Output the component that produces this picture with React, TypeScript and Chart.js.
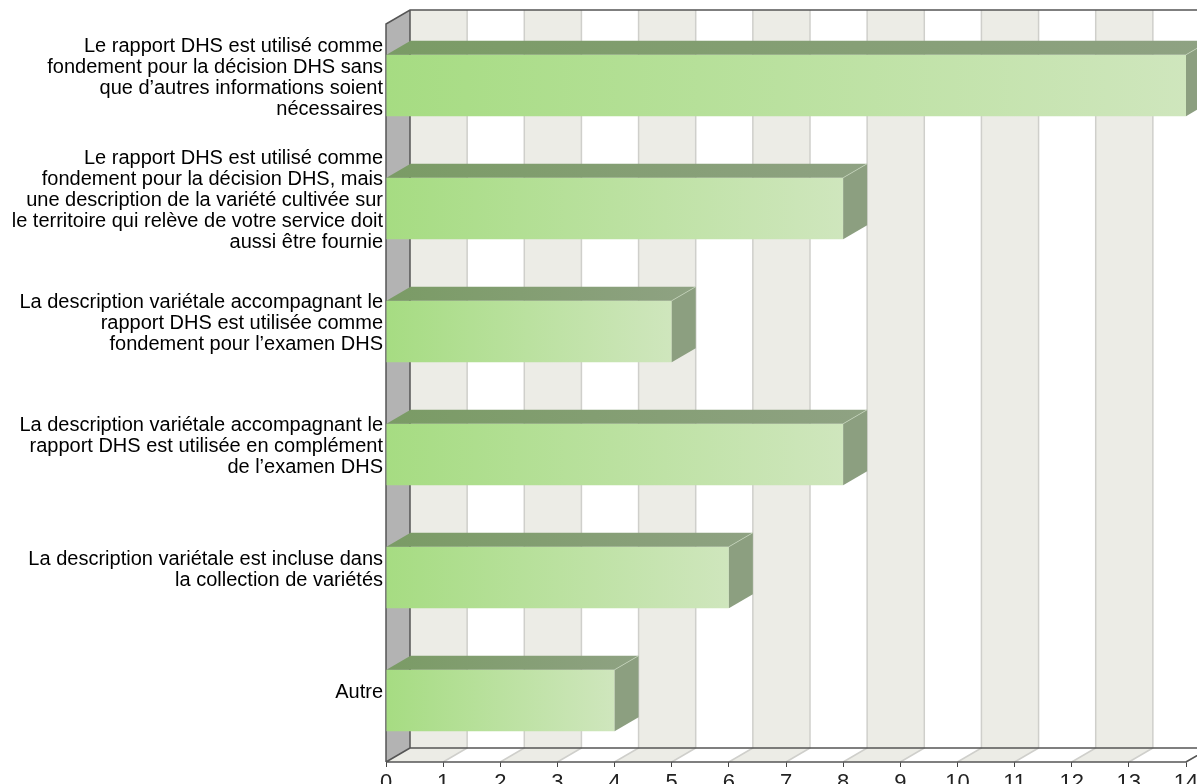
import React, { useEffect, useRef } from "react";
import { Chart, registerables } from "chart.js";

Chart.register(...registerables);

const categories: string[][] = [
  ["Le rapport DHS est utilisé comme", "fondement pour la décision DHS sans", "que d’autres informations soient", "nécessaires"],
  ["Le rapport DHS est utilisé comme", "fondement pour la décision DHS, mais", "une description de la variété cultivée sur", "le territoire qui relève de votre service doit", "aussi être fournie"],
  ["La description variétale accompagnant le", "rapport DHS est utilisée comme", "fondement pour l’examen DHS"],
  ["La description variétale accompagnant le", "rapport DHS est utilisée en complément", "de l’examen DHS"],
  ["La description variétale est incluse dans", "la collection de variétés"],
  ["Autre"],
];
const values: number[] = [14, 8, 5, 8, 6, 4];
const xMin = 0;
const xMax = 14;
const xStep = 1;

const DX = 24;
const DY = -14;
const FONT = "'Liberation Sans', Arial, Helvetica, sans-serif";

const wallPlugin = {
  id: "wall3d",
  beforeDatasetsDraw(chart: any) {
    const { ctx, chartArea } = chart;
    const xs = chart.scales.x;
    const { left, right, top, bottom } = chartArea;
    ctx.save();
    ctx.fillStyle = "#ffffff";
    ctx.fillRect(left + DX, top + DY, right - left, bottom - top);
    ctx.fillStyle = "#ecece6";
    for (let v = xMin; v < xMax; v += xStep) {
      const idx = Math.round((v - xMin) / xStep);
      if (idx % 2 !== 0) continue;
      const a = xs.getPixelForValue(v) + DX;
      const b = xs.getPixelForValue(v + xStep) + DX;
      ctx.fillRect(a, top + DY, b - a, bottom - top);
    }
    ctx.fillStyle = "#ffffff";
    ctx.beginPath();
    ctx.moveTo(left, bottom);
    ctx.lineTo(left + DX, bottom + DY);
    ctx.lineTo(right + DX, bottom + DY);
    ctx.lineTo(right, bottom);
    ctx.closePath();
    ctx.fill();
    ctx.fillStyle = "#ecece6";
    for (let v = xMin; v < xMax; v += xStep) {
      const idx = Math.round((v - xMin) / xStep);
      if (idx % 2 !== 0) continue;
      const a = xs.getPixelForValue(v);
      const b = xs.getPixelForValue(v + xStep);
      ctx.beginPath();
      ctx.moveTo(a, bottom);
      ctx.lineTo(a + DX, bottom + DY);
      ctx.lineTo(b + DX, bottom + DY);
      ctx.lineTo(b, bottom);
      ctx.closePath();
      ctx.fill();
    }
    ctx.strokeStyle = "#cfcfcb";
    ctx.lineWidth = 1.5;
    for (let v = xMin + xStep; v <= xMax; v += xStep) {
      const p = xs.getPixelForValue(v);
      ctx.beginPath();
      ctx.moveTo(p + DX, top + DY);
      ctx.lineTo(p + DX, bottom + DY);
      ctx.lineTo(p, bottom);
      ctx.stroke();
    }
    ctx.fillStyle = "#b3b3b3";
    ctx.beginPath();
    ctx.moveTo(left, top);
    ctx.lineTo(left + DX, top + DY);
    ctx.lineTo(left + DX, bottom + DY);
    ctx.lineTo(left, bottom);
    ctx.closePath();
    ctx.fill();
    ctx.strokeStyle = "#555555";
    ctx.lineWidth = 1.5;
    ctx.beginPath();
    ctx.moveTo(left, bottom);
    ctx.lineTo(left, top);
    ctx.lineTo(left + DX, top + DY);
    ctx.lineTo(right + DX + 20, top + DY);
    ctx.moveTo(left + DX, top + DY);
    ctx.lineTo(left + DX, bottom + DY);
    ctx.lineTo(right + DX + 20, bottom + DY);
    ctx.moveTo(left, bottom);
    ctx.lineTo(left + DX, bottom + DY);
    ctx.moveTo(left, bottom);
    ctx.lineTo(right, bottom);
    ctx.lineTo(right + DX, bottom + DY);
    ctx.stroke();
    ctx.restore();
  },
  afterDatasetsDraw(chart: any) {
    const { ctx } = chart;
    const meta = chart.getDatasetMeta(0);
    ctx.save();
    meta.data.forEach((bar: any) => {
      const x0 = bar.base;
      const x1 = bar.x;
      const yT = bar.y - bar.height / 2;
      const yB = bar.y + bar.height / 2;
      const g = ctx.createLinearGradient(x0, 0, x1 + DX, 0);
      g.addColorStop(0, "#7a9b65");
      g.addColorStop(1, "#8fa283");
      ctx.fillStyle = g;
      ctx.beginPath();
      ctx.moveTo(x0, yT);
      ctx.lineTo(x0 + DX, yT + DY);
      ctx.lineTo(x1 + DX, yT + DY);
      ctx.lineTo(x1, yT);
      ctx.closePath();
      ctx.fill();
      ctx.fillStyle = "#8c9f80";
      ctx.beginPath();
      ctx.moveTo(x1, yT);
      ctx.lineTo(x1 + DX, yT + DY);
      ctx.lineTo(x1 + DX, yB + DY);
      ctx.lineTo(x1, yB);
      ctx.closePath();
      ctx.fill();
      ctx.strokeStyle = "rgba(200,215,190,0.7)";
      ctx.lineWidth = 1;
      ctx.beginPath();
      ctx.moveTo(x1, yT);
      ctx.lineTo(x1 + DX, yT + DY);
      ctx.stroke();
    });
    ctx.restore();
  },
};

export default function App() {
  const ref = useRef<HTMLCanvasElement>(null);
  useEffect(() => {
    document.body.style.margin = "0";
    const canvas = ref.current!;
    const chart = new Chart(canvas, {
      type: "bar",
      data: {
        labels: categories,
        datasets: [
          {
            data: values,
            categoryPercentage: 1,
            barPercentage: 0.5,
            borderWidth: 0,
            backgroundColor: (c: any) => {
              const ch = c.chart;
              if (!ch.chartArea || c.raw === undefined) return "#b5e09a";
              const xs = ch.scales.x;
              const a = xs.getPixelForValue(0);
              const b = xs.getPixelForValue(c.raw);
              const g = ch.ctx.createLinearGradient(a, 0, b, 0);
              g.addColorStop(0, "#a6dc82");
              g.addColorStop(1, "#cfe6bd");
              return g;
            },
          },
        ],
      },
      options: {
        indexAxis: "y",
        responsive: false,
        animation: false,
        layout: { padding: { top: 24, right: 11, left: 0, bottom: 0 } },
        plugins: { legend: { display: false }, tooltip: { enabled: false } },
        scales: {
          x: {
            min: xMin,
            max: xMax,
            afterFit: (s: any) => {
              s.height = 22;
              s.paddingLeft = 0;
              s.paddingRight = 0;
              s.paddingTop = 0;
              s.paddingBottom = 0;
            },
            border: { display: false },
            grid: { drawOnChartArea: false, drawTicks: true, tickLength: 5, color: "#444", lineWidth: 1 },
            ticks: {
              stepSize: xStep,
              padding: 3,
              maxRotation: 0,
              color: "#222",
              font: { family: FONT, size: 22 },
            },
          },
          y: {
            afterFit: (s: any) => {
              s.width = 386;
              s.paddingLeft = 0;
              s.paddingRight = 0;
              s.paddingTop = 0;
              s.paddingBottom = 0;
            },
            border: { display: false },
            grid: { display: false, drawTicks: false },
            ticks: {
              padding: 3,
              labelOffset: -8,
              color: "#000",
              autoSkip: false,
              font: { family: FONT, size: 20, lineHeight: "21px" },
            },
          },
        },
      },
      plugins: [wallPlugin],
    } as any);
    return () => chart.destroy();
  }, []);
  return (
    <div style={{ position: "absolute", left: 0, top: 0, width: 1197, height: 784, overflow: "hidden" }}>
      <canvas ref={ref} width={1197} height={784} style={{ display: "block", width: 1197, height: 784 }} />
    </div>
  );
}
